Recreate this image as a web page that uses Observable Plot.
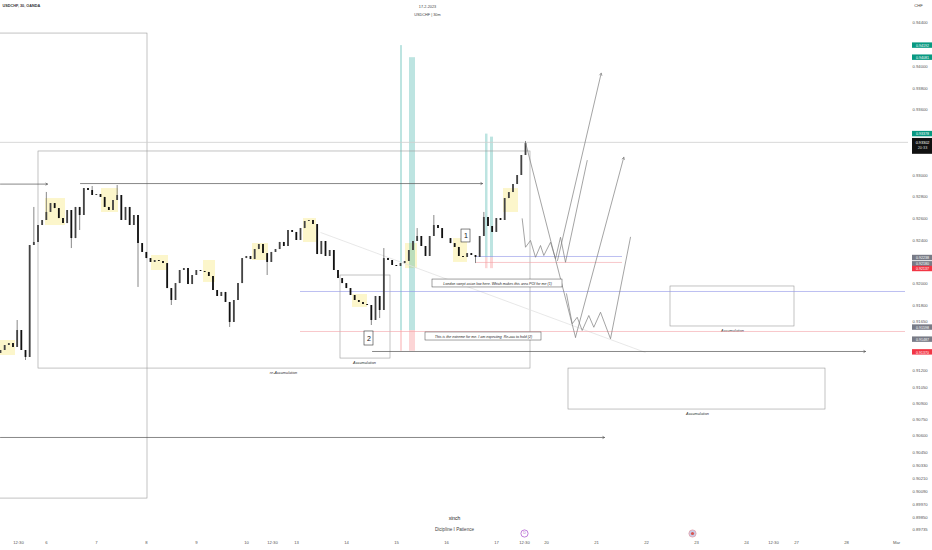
<!DOCTYPE html>
<html><head><meta charset="utf-8">
<script src="https://cdn.jsdelivr.net/npm/d3@7"></script>
<script src="https://cdn.jsdelivr.net/npm/@observablehq/plot@0.6"></script>
<style>body{margin:0;background:#fff}svg{display:block}</style>
</head><body><div id="chart"></div>
<script>
// ---- DATA (x = trading-day index from Mon 6 Feb 00:00, y = price) ----
const firstOpen = 0.91360;
const closes = [
0.91387,0.91433,0.91451,0.91415,0.91571,0.91387,0.91323,0.92353,0.92381,0.92537,
0.92583,0.92657,0.92739,0.92693,0.92601,0.92555,0.92675,0.92417,0.92703,0.92629,
0.92877,0.92859,0.92813,0.92822,0.92795,0.92703,0.92675,0.92767,0.92813,0.92583,
0.92703,0.92537,0.92629,0.92371,0.92289,0.92233,0.92197,0.92215,0.92206,0.92187,
0.91957,0.91847,0.92003,0.92123,0.92141,0.91994,0.92077,0.92123,0.92114,0.92105,
0.92068,0.91939,0.91884,0.91921,0.91829,0.91645,0.91847,0.92003,0.92233,0.92252,
0.92224,0.92316,0.92362,0.92279,0.92197,0.92289,0.92316,0.92381,0.92344,0.92491,
0.92473,0.92399,0.92509,0.92574,0.92583,0.92546,0.92270,0.92390,0.92252,0.92307,
0.92123,0.92049,0.92003,0.91957,0.91893,0.91847,0.91829,0.91810,0.91801,0.91663,
0.91884,0.91755,0.92233,0.92215,0.92169,0.92160,0.92187,0.92206,0.92307,0.92390,
0.92436,0.92344,0.92252,0.92436,0.92537,0.92509,0.92417,0.92417,0.92371,0.92335,
0.92252,0.92243,0.92279,0.92261,0.92243,0.92436,0.92611,0.92528,0.92473,0.92601,
0.92583,0.92785,0.92840,0.92914,0.92997,0.93181,0.93291];
const highWicks = {4:0.91663,8:0.92703,11:0.92841,22:0.92896,28:0.92905,92:0.92325,100:0.92509,104:0.92629,116:0.92657,126:0.93310};
const lowWicks = {6:0.91295,17:0.92325,19:0.92491,33:0.91967,41:0.91801,55:0.91599,64:0.92077,89:0.91617,91:0.91681,114:0.92187};
const startT = -0.92, barsPerDay = 12;

const xTickT = [-0.56,0,1,2,3,4,4.52,5,6,7,8,9,9.56,10,11,12,13,14,14.54,15,16,17];
const xTickLabels = ["12:30","6","7","8","9","10","12:30","13","14","15","16","17","12:30","20","21","22","23","24","12:30","27","28","Mar"];
const yTicks = [0.944,0.940,0.938,0.936,0.930,0.928,0.926,0.924,0.920,0.918,0.9165,0.912,0.9105,0.909,0.9075,0.906,0.9045,0.9033,0.9021,0.9009,0.8997,0.8985,0.89735];

const boxes = [
 {t1:-1.12,t2:2.02,p1:0.90025,p2:0.94303},
 {t1:-0.16,t2:9.68,p1:0.91221,p2:0.93218},
 {t1:5.88,t2:6.88,p1:0.91313,p2:0.92077},
 {t1:12.48,t2:14.96,p1:0.91608,p2:0.91976},
 {t1:10.44,t2:15.58,p1:0.90844,p2:0.91221}];
const boxLabels = [
 {t:4.74,p:0.91185,text:"re-Accumulation"},
 {t:6.36,p:0.91277,text:"Accumulation"},
 {t:13.72,p:0.91571,text:"Accumulation"},
 {t:13.02,p:0.90807,text:"Accumulation"}];
const sessions = [
 {t1:-0.92,t2:-0.62,p1:0.91341,p2:0.91479},{t1:-0.02,t2:0.38,p1:0.92537,p2:0.92785},
 {t1:1.1,t2:1.44,p1:0.92657,p2:0.92877},{t1:2.1,t2:2.44,p1:0.92123,p2:0.92261},
 {t1:3.14,t2:3.38,p1:0.92013,p2:0.92215},{t1:4.12,t2:4.44,p1:0.92215,p2:0.92371},
 {t1:5.14,t2:5.4,p1:0.92381,p2:0.92601},{t1:6.12,t2:6.42,p1:0.91783,p2:0.91902},
 {t1:7.18,t2:7.42,p1:0.92141,p2:0.92371},{t1:8.14,t2:8.42,p1:0.92197,p2:0.92417},
 {t1:9.14,t2:9.44,p1:0.92657,p2:0.92877}];
const hArrows = [
 {t1:-0.92,t2:0.02,p:0.92918},{t1:0.68,t2:8.72,p:0.92923},
 {t1:-0.92,t2:11.16,p:0.90587},{t1:6.52,t2:16.38,p:0.91378}];
const lastPrice = 0.93302;
const blueLines = [{t1:5.08,t2:17.18,p:0.91930},{t1:8.6,t2:11.52,p:0.92252}];
const redLines = [{t1:5.08,t2:17.18,p:0.91562},{t1:8.6,t2:11.52,p:0.92197}];
const bands = [
 {t1:7.08,t2:7.12,top:0.94192,mid:0.91571,bottom:0.91380},
 {t1:7.26,t2:7.38,top:0.94081,mid:0.91571,bottom:0.91380},
 {t1:8.78,t2:8.83,top:0.93378,mid:0.92240,bottom:0.92140},
 {t1:8.88,t2:8.94,top:0.93350,mid:0.92240,bottom:0.92140}];
const diagonal = [{t1:5.48,p1:0.92473,t2:11.98,p2:0.91369}];
const peakLeg = [[9.58,0.93301],[10.58,0.91509]];
const upperWave = [[9.514,0.92599],[9.58,0.92337],[9.68,0.92399],[9.78,0.92245],[9.88,0.92353],[9.946,0.92261],[10.08,0.92383],[10.18,0.92231],[10.28,0.92429],[10.38,0.92199],[10.814,0.93135]];
const lowerWave = [[10.4,0.91909],[10.514,0.91633],[10.614,0.91693],[10.714,0.91571],[10.846,0.91709],[10.946,0.91601],[11.08,0.91739],[11.28,0.91495],[11.68,0.92429]];
const projArrows = [{t1:10.22,p1:0.92215,t2:11.094,p2:0.93938},{t1:10.58,p1:0.91509,t2:11.546,p2:0.93165}];
const notes = [
 {t:9.02,p:0.92003,t1:7.72,t2:10.32,p1:0.91967,p2:0.92040,text:"London swept asian low here. Which makes this area POI for me (1)"},
 {t:8.74,p:0.91516,t1:7.58,t2:9.9,p1:0.91479,p2:0.91553,text:"This is the extreme for me. I am expecting  Re-acc to hold (2)"}];
const numberTags = [
 {t:8.39,p:0.92440,t1:8.3,t2:8.48,p1:0.92381,p2:0.92500,text:"1"},
 {t:6.45,p:0.91497,t1:6.36,t2:6.54,p1:0.91433,p2:0.91562,text:"2"}];
const priceTags = [
 {price:0.94192,label:"0.94192",kind:"green"},{price:0.94081,label:"0.94081",kind:"green"},
 {price:0.93378,label:"0.93378",kind:"green"},
 {price:0.92238,label:"0.92238",kind:"grey"},{price:0.92180,label:"0.92180",kind:"grey"},
 {price:0.92137,label:"0.92137",kind:"red"},
 {price:0.91598,label:"0.91598",kind:"grey"},{price:0.91487,label:"0.91487",kind:"grey"},
 {price:0.91370,label:"0.91370",kind:"red"}];
const countdown = "20:33";
const events = [{t:9.56,kind:"earnings"},{t:12.92,kind:"flag"}];

// ---- build candles ----
const candles = closes.map((c,i)=>{
  const o = i ? closes[i-1] : firstOpen;
  return {t:startT + i/barsPerDay, open:o, close:c,
    high: Math.max(o,c,highWicks[i] ?? 0), low: Math.min(o,c,lowWicks[i] ?? 9)};
});
const segs = (arr,id)=>arr.map(([t,p])=>({t,p,id}));
const paths = [...segs(peakLeg,"a"),...segs(upperWave,"b"),...segs(lowerWave,"c")];

const tagColor = {green:"#089981",grey:"#787b86",red:"#f23645"};
const F = "'Liberation Sans', Arial, sans-serif";

const chart = Plot.plot({
  width:932, height:550, marginLeft:0, marginRight:24, marginTop:0, marginBottom:0,
  x:{domain:[-0.92,17.24], axis:null},
  y:{domain:[0.895472,0.946070], axis:null},
  style:{fontFamily:F, background:"#fff", overflow:"visible"},
  marks:[
    Plot.rect(sessions,{x1:"t1",x2:"t2",y1:"p1",y2:"p2",fill:"#fbf3b9",fillOpacity:0.75}),
    Plot.rect(bands,{x1:"t1",x2:"t2",y1:"mid",y2:"top",fill:"#26a69a",fillOpacity:0.3}),
    Plot.rect(bands,{x1:"t1",x2:"t2",y1:"bottom",y2:"mid",fill:"#f77c80",fillOpacity:0.32}),
    Plot.rect(boxes,{x1:"t1",x2:"t2",y1:"p1",y2:"p2",stroke:"#9a9a9a",strokeWidth:0.6,fill:"none"}),
    Plot.text(boxLabels,{x:"t",y:"p",text:"text",fontSize:3.8,fontStyle:"italic",fill:"#333"}),
    Plot.ruleY([lastPrice],{stroke:"#cfcfcf",strokeWidth:0.8}),
    Plot.link(diagonal,{x1:"t1",y1:"p1",x2:"t2",y2:"p2",stroke:"#e2e2e2",strokeWidth:0.8}),
    Plot.ruleY(blueLines,{x1:"t1",x2:"t2",y:"p",stroke:"#8f96e8",strokeWidth:0.6}),
    Plot.ruleY(redLines,{x1:"t1",x2:"t2",y:"p",stroke:"#f3a3a8",strokeWidth:0.6}),
    Plot.arrow(hArrows,{x1:"t1",x2:"t2",y1:"p",y2:"p",stroke:"#555",strokeWidth:0.7,headLength:4}),
    Plot.ruleX(candles,{x:"t",y1:"low",y2:"high",stroke:"#555",strokeWidth:0.7}),
    Plot.ruleX(candles.filter(d=>d.close>=d.open),{x:"t",y1:"open",y2:"close",stroke:"#444",strokeWidth:1.8}),
    Plot.ruleX(candles.filter(d=>d.close<d.open),{x:"t",y1:"open",y2:"close",stroke:"#111",strokeWidth:1.8}),
    Plot.line(paths,{x:"t",y:"p",z:"id",stroke:"#7d7d7d",strokeWidth:0.7}),
    Plot.arrow(projArrows,{x1:"t1",y1:"p1",x2:"t2",y2:"p2",stroke:"#7d7d7d",strokeWidth:0.7,headLength:5}),
    Plot.rect(notes,{x1:"t1",x2:"t2",y1:"p1",y2:"p2",fill:"#fff",stroke:"#444",strokeWidth:0.5}),
    Plot.text(notes,{x:"t",y:"p",text:"text",fontSize:3.6,fontStyle:"italic",fill:"#222"}),
    Plot.rect(numberTags,{x1:"t1",x2:"t2",y1:"p1",y2:"p2",fill:"#fff",stroke:"#333",strokeWidth:0.6}),
    Plot.text(numberTags,{x:"t",y:"p",text:"text",fontSize:7,fill:"#111"}),
    // right axis
    Plot.axisY(yTicks,{anchor:"right",tickSize:0,tickPadding:4,tickFormat:d=>d.toFixed(5),fontSize:4.2,fill:"#555",label:null}),
    ...["green","grey","red"].map(k=>Plot.rect(priceTags.filter(d=>d.kind===k),{x1:17.32,x2:17.72,y1:d=>d.price-0.00025,y2:d=>d.price+0.00025,fill:tagColor[k]})),
    Plot.text(priceTags,{x:17.52,y:"price",text:"label",fill:"#fff",fontSize:3.6}),
    Plot.rect([lastPrice],{x1:17.32,x2:17.72,y1:d=>d-0.00110,y2:d=>d+0.00036,fill:"#111"}),
    Plot.text([lastPrice],{x:17.52,y:d=>d,text:d=>d.toFixed(5),fill:"#fff",fontSize:3.8}),
    Plot.text([countdown],{x:17.52,y:lastPrice,dy:5.5,text:d=>d,fill:"#ddd",fontSize:3.8}),
    // bottom axis
    Plot.text(xTickT,{x:d=>d,text:(d,i)=>xTickLabels[i],frameAnchor:"bottom",dy:-7,fontSize:4.2,fill:"#555"}),
    // header & footer
    Plot.text(["USDCHF, 30, OANDA"],{frameAnchor:"top-left",dx:2,dy:4,fontSize:3.8,fontWeight:"bold",fill:"#333",textAnchor:"start"}),
    Plot.text(["17-2-2023"],{x:7.62,frameAnchor:"top",dy:5,fontSize:3.8,fill:"#444"}),
    Plot.text(["USDCHF | 30m"],{x:7.62,frameAnchor:"top",dy:13,fontSize:3.8,fill:"#444"}),
    Plot.text(["CHF"],{frameAnchor:"top-right",dx:10,dy:4,fontSize:4.2,fill:"#444",textAnchor:"middle"}),
    Plot.text(["xinch"],{frameAnchor:"bottom",dy:-31,fontSize:5,fill:"#222"}),
    Plot.text(["Dicipline I Patience"],{frameAnchor:"bottom",dy:-20,fontSize:4.6,fill:"#444"}),
    Plot.dot(events.filter(d=>d.kind==="earnings"),{x:"t",frameAnchor:"bottom",dy:-17,r:3.6,stroke:"#b15fd1",fill:"#fff",strokeWidth:0.8}),
    Plot.text(events.filter(d=>d.kind==="earnings"),{x:"t",frameAnchor:"bottom",dy:-17,text:()=>"D",fontSize:3.6,fill:"#b15fd1"}),
    Plot.dot(events.filter(d=>d.kind==="flag"),{x:"t",frameAnchor:"bottom",dy:-17,r:3.6,fill:"#c8cde8",stroke:"#e3a0a8",strokeWidth:0.8}),
    Plot.dot(events.filter(d=>d.kind==="flag"),{x:"t",frameAnchor:"bottom",dy:-17,r:1.6,fill:"#d9534f"})
  ]
});
document.getElementById("chart").appendChild(chart);
</script></body></html>
